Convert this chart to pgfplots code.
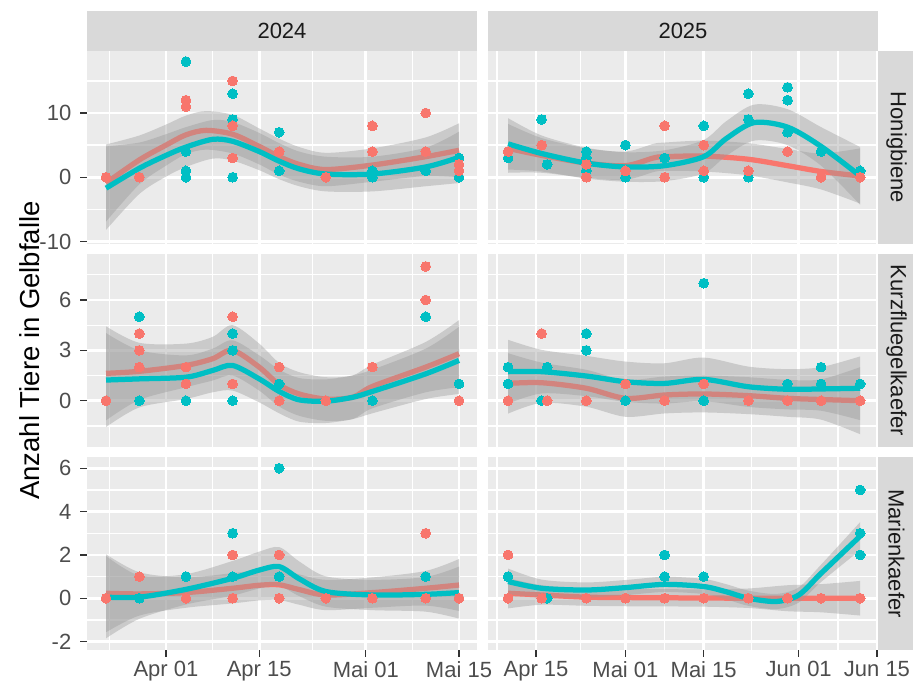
\documentclass[border=0pt]{standalone}
\usepackage{pgfplots}
\pgfplotsset{compat=1.18}
\usepackage{pgfplotstable}
\usepgfplotslibrary{fillbetween}
\usepackage{fontspec}
\setmainfont{Liberation Sans}
\definecolor{gred}{HTML}{F8766D}
\definecolor{gteal}{HTML}{00BFC4}
\definecolor{panelbg}{HTML}{EBEBEB}
\definecolor{stripbg}{HTML}{D9D9D9}
\definecolor{grey30}{HTML}{4D4D4D}
\definecolor{grey20}{HTML}{333333}
\definecolor{grey10}{HTML}{1A1A1A}
\definecolor{ribbon}{HTML}{999999}

% smooth fits: x y lo hi
\pgfplotstableread{
x y lo hi
-9 -0.9 -6.9 5.1
-4 2.7 -1.1 6.5
0 5.0 1.8 8.2
3 6.6 3.6 9.6
6 7.3 4.3 10.3
10 6.7 3.7 9.7
14 4.8 2.0 7.6
17 3.2 0.4 6.0
20 2.0 -0.7 4.7
24 1.2 -1.4 3.8
31 1.9 -0.7 4.5
39 3.2 0.2 6.2
44 4.2 0.0 8.4
}\rAL
\pgfplotstableread{
x y lo hi
-9 -1.7 -8.2 4.8
-4 1.4 -2.6 5.4
0 3.4 0.1 6.7
3 4.7 1.6 7.8
7 5.9 2.9 8.9
10 5.6 2.6 8.6
14 4.0 1.1 6.9
17 2.5 -0.3 5.3
20 1.3 -1.4 4.0
24 0.5 -2.2 3.2
31 0.5 -2.2 3.2
39 1.6 -1.4 4.6
44 3.1 -0.9 7.1
}\tAL
\pgfplotstableread{
x y lo hi
9 4.5 0.7 8.3
15 3.4 0.7 6.1
23 2.2 -0.1 4.5
30 1.8 -0.4 4.0
35 3.0 0.8 5.2
37 3.2 1.0 5.4
44 3.3 0.9 5.7
52 2.8 0.3 5.3
59 1.8 -0.8 4.4
65 0.9 -1.9 3.7
72 0.2 -4.1 4.5
}\rAR
\pgfplotstableread{
x y lo hi
9 5.2 1.2 9.2
15 3.7 0.9 6.5
23 2.2 -0.2 4.6
30 1.6 -0.7 3.9
37 1.8 -0.6 4.2
44 3.2 0.6 5.8
48 6.0 3.3 8.7
53 8.5 5.7 11.3
59 7.8 5.0 10.6
65 4.8 1.8 7.8
72 0.2 -4.3 4.7
}\tAR
\pgfplotstableread{
x y lo hi
-9 1.63 -1.17 4.43
-4 1.75 0.05 3.45
3 2.1 0.8 3.4
7 2.5 1.2 3.8
10 3.0 1.5 4.5
14 2.0 0.6 3.4
17 0.95 -0.35 2.25
20 0.4 -0.9 1.7
24 0.1 -1.2 1.4
28 0.2 -1.1 1.5
31 0.85 -0.45 2.15
39 2.0 0.5 3.5
44 2.8 0.8 4.8
}\rBL
\pgfplotstableread{
x y lo hi
-9 1.23 -1.57 4.03
-4 1.3 -0.4 3.0
3 1.4 0.1 2.7
7 1.8 0.5 3.1
10 2.1 0.6 3.6
14 1.3 -0.1 2.7
17 0.55 -0.75 1.85
20 0.05 -1.25 1.35
24 -0.03 -1.33 1.27
28 0.2 -1.1 1.5
31 0.55 -0.75 1.85
39 1.6 0.1 3.1
44 2.4 0.4 4.4
}\tBL
\pgfplotstableread{
x y lo hi
9 1.03 -0.77 2.83
15 1.07 -0.13 2.27
23 0.74 -0.36 1.84
30 0.14 -0.96 1.24
37 0.34 -0.76 1.44
44 0.4 -0.7 1.5
52 0.3 -0.8 1.4
59 0.14 -0.96 1.24
65 0.07 -1.13 1.27
72 0.0 -2.0 2.0
}\rBR
\pgfplotstableread{
x y lo hi
9 1.73 -0.17 3.63
15 1.73 0.43 3.03
23 1.47 0.27 2.67
30 1.13 -0.07 2.33
37 1.03 -0.17 2.23
44 1.27 -0.03 2.57
52 0.83 -0.37 2.03
59 0.68 -0.52 1.88
65 0.7 -0.6 2.0
72 0.74 -1.16 2.64
}\tBR
\pgfplotstableread{
x y lo hi
-9 0.23 -1.57 2.03
-4 0.2 -0.8 1.2
3 0.26 -0.44 0.96
10 0.46 -0.24 1.16
14 0.6 -0.1 1.3
17 0.62 -0.08 1.32
20 0.4 -0.3 1.1
24 0.15 -0.55 0.85
31 0.26 -0.44 0.96
39 0.46 -0.34 1.26
44 0.61 -0.59 1.81
}\rCL
\pgfplotstableread{
x y lo hi
-9 0.05 -1.85 1.95
-4 0.05 -0.95 1.05
3 0.41 -0.29 1.11
10 0.92 0.12 1.72
14 1.3 0.45 2.15
17 1.46 0.56 2.36
20 0.9 0.1 1.7
24 0.31 -0.39 1.01
31 0.15 -0.55 0.85
39 0.18 -0.62 0.98
44 0.26 -0.94 1.46
}\tCL
\pgfplotstableread{
x y lo hi
9 0.23 -0.47 0.93
15 0.15 -0.3 0.6
23 0.05 -0.35 0.45
30 0.03 -0.37 0.43
37 0.02 -0.38 0.42
44 0.01 -0.39 0.41
52 0.0 -0.45 0.45
59 0.0 -0.6 0.6
65 0.0 -0.65 0.65
72 0.0 -0.8 0.8
}\rCR
\pgfplotstableread{
x y lo hi
9 0.77 0.17 1.37
15 0.46 0.06 0.86
23 0.38 0.03 0.73
30 0.49 0.14 0.84
37 0.64 0.29 0.99
44 0.54 0.19 0.89
48 0.3 -0.05 0.65
52 0.0 -0.35 0.35
57 -0.15 -0.5 0.2
61 0.15 -0.2 0.5
65 1.15 0.75 1.55
72 2.87 2.22 3.52
}\tCR

\pgfplotsset{
  panel/.style={scale only axis, width=156pt, height=77.2pt, anchor=north west,
    axis background/.style={fill=panelbg}, axis line style={draw=none},
    grid=both, major grid style={white, line width=1.07pt},
    minor grid style={white, line width=0.53pt},
    tick align=outside, major tick length=2.75pt, minor tick length=0pt,
    tick style={grey20, line width=0.53pt},
    tick pos=left,
    ticklabel style={font=\fontsize{8.8}{10}\selectfont, text=grey30},
    xticklabel style={yshift=1.8pt},
    /pgf/number format/assume math mode=true,
  },
  leftcol/.style={xmin=-11.86, xmax=46.7, xtick={0,14,30,44},
    minor xtick={-8.5,7,22,37}, xticklabels={Apr 01,Apr 15,Mai 01,Mai 15}},
  rightcol/.style={xmin=5.41, xmax=75.18, xtick={14,30,44,61,75},
    minor xtick={7,22,37,52.5,68},
    xticklabels={Apr 15,Mai 01,Mai 15,Jun 01,Jun 15},
    yticklabels={}, ytick style={draw=none}},
  notbottom/.style={xticklabels={}, xtick style={draw=none}},
  row1/.style={ymin=-10.39, ymax=19.65, ytick={-10,0,10}, minor ytick={-5,5,15}},
  row2/.style={ymin=-2.76, ymax=8.74, ytick={0,3,6}, minor ytick={-1.5,1.5,4.5,7.5}},
  row3/.style={ymin=-2.39, ymax=6.52, ytick={-2,0,2,4,6}, minor ytick={-1,1,3,5}},
  pts/.style={only marks, mark=*, mark size=1.95pt, on layer=pre main,
    mark options={fill=#1, draw=#1, line width=0pt}, forget plot},
}

\newcommand{\grp}[2]{%
  \addplot[draw=none, name path=hi#2, forget plot, smooth] table[x=x,y=hi]{#1};
  \addplot[draw=none, name path=lo#2, forget plot, smooth] table[x=x,y=lo]{#1};
  \addplot[fill=ribbon, fill opacity=0.4, draw=none, forget plot] fill between[of=hi#2 and lo#2];
  \addplot[#2, line width=2.1pt, smooth, forget plot, on layer=pre main] table[x=x,y=y]{#1};
}

\begin{document}
\begin{tikzpicture}
% row 1
\begin{axis}[panel, leftcol, notbottom, row1, at={(34.8pt,-20.4pt)}]
\addplot[pts=gteal] coordinates {(-9,0) (-4,0) (3,18) (3,4) (3,1) (3,0) (10,13) (10,9) (10,0) (17,7) (17,1) (24,0) (31,1) (31,0) (39,1) (44,3) (44,0)};
\addplot[pts=gred] coordinates {(-9,0) (-4,0) (3,12) (3,11) (10,15) (10,8) (10,3) (17,4) (24,0) (31,8) (31,4) (39,10) (39,4) (44,2) (44,1)};
\grp{\rAL}{gred}
\grp{\tAL}{gteal}
\end{axis}
\begin{axis}[panel, rightcol, notbottom, row1, at={(195.2pt,-20.4pt)}]
\addplot[pts=gteal] coordinates {(9,3) (15,9) (16,2) (23,4) (23,3) (23,1) (23,0) (30,5) (30,0) (37,3) (44,8) (44,0) (52,13) (52,9) (52,0) (59,14) (59,12) (59,7) (65,4) (72,1) (72,0)};
\addplot[pts=gred] coordinates {(9,4) (15,5) (23,2) (23,0) (30,1) (37,8) (37,0) (44,5) (44,1) (52,1) (59,4) (65,0) (72,0)};
\grp{\rAR}{gred}
\grp{\tAR}{gteal}
\end{axis}
% row 2
\begin{axis}[panel, leftcol, notbottom, row2, at={(34.8pt,-101.6pt)}]
\addplot[pts=gteal] coordinates {(-9,0) (-4,5) (-4,0) (3,0) (10,4) (10,3) (10,0) (17,1) (24,0) (31,0) (39,5) (44,1)};
\addplot[pts=gred] coordinates {(-9,0) (-4,4) (-4,3) (-4,2) (3,2) (3,1) (10,5) (10,1) (17,2) (17,0) (24,0) (31,2) (39,8) (39,6) (44,0)};
\grp{\rBL}{gred}
\grp{\tBL}{gteal}
\end{axis}
\begin{axis}[panel, rightcol, notbottom, row2, at={(195.2pt,-101.6pt)}]
\addplot[pts=gteal] coordinates {(9,2) (9,1) (15,0) (16,2) (23,4) (23,3) (30,0) (44,7) (44,0) (59,1) (65,2) (65,1) (72,1)};
\addplot[pts=gred] coordinates {(9,0) (15,4) (16,0) (23,0) (30,1) (37,0) (44,1) (52,0) (59,0) (65,0) (72,0)};
\grp{\rBR}{gred}
\grp{\tBR}{gteal}
\end{axis}
% row 3
\begin{axis}[panel, leftcol, row3, at={(34.8pt,-182.8pt)}]
\addplot[pts=gteal] coordinates {(-9,0) (-4,0) (3,1) (10,3) (10,1) (17,6) (17,1) (24,0) (31,0) (39,1) (39,0) (44,0)};
\addplot[pts=gred] coordinates {(-9,0) (-4,1) (3,0) (10,2) (10,0) (17,2) (17,0) (24,0) (31,0) (39,3) (39,0) (44,0)};
\grp{\rCL}{gred}
\grp{\tCL}{gteal}
\end{axis}
\begin{axis}[panel, rightcol, row3, at={(195.2pt,-182.8pt)}]
\addplot[pts=gteal] coordinates {(9,1) (15,0) (16,0) (23,0) (30,0) (37,2) (37,1) (44,1) (52,0) (59,0) (72,5) (72,3) (72,2)};
\addplot[pts=gred] coordinates {(9,2) (9,0) (15,0) (23,0) (30,0) (37,0) (44,0) (52,0) (59,0) (65,0) (72,0)};
\grp{\rCR}{gred}
\grp{\tCR}{gteal}
\end{axis}
% strips
\fill[stripbg] (34.8pt,-4.4pt) rectangle (190.8pt,-20.4pt);
\fill[stripbg] (195.2pt,-4.4pt) rectangle (351.2pt,-20.4pt);
\node[text=grey10, font=\fontsize{8.8}{10}\selectfont] at (112.8pt,-12.4pt) {2024};
\node[text=grey10, font=\fontsize{8.8}{10}\selectfont] at (273.2pt,-12.4pt) {2025};
\fill[stripbg] (351.2pt,-20.4pt) rectangle (365.2pt,-97.6pt);
\fill[stripbg] (351.2pt,-101.6pt) rectangle (365.2pt,-178.8pt);
\fill[stripbg] (351.2pt,-182.8pt) rectangle (365.2pt,-260pt);
\node[text=grey10, font=\fontsize{8.8}{10}\selectfont, rotate=-90] at (358.6pt,-59pt) {Honigbiene};
\node[text=grey10, font=\fontsize{8.8}{10}\selectfont, rotate=-90] at (358.6pt,-140.2pt) {Kurzfluegelkaefer};
\node[text=grey10, font=\fontsize{8.8}{10}\selectfont, rotate=-90] at (358.6pt,-221.4pt) {Marienkaefer};
% y label
\node[font=\fontsize{11}{13}\selectfont, rotate=90] at (12pt,-140.2pt) {Anzahl Tiere in Gelbfalle};
\pgfresetboundingbox
\path[use as bounding box] (0,0) rectangle (365.2pt,-276.4pt);
\end{tikzpicture}
\end{document}
